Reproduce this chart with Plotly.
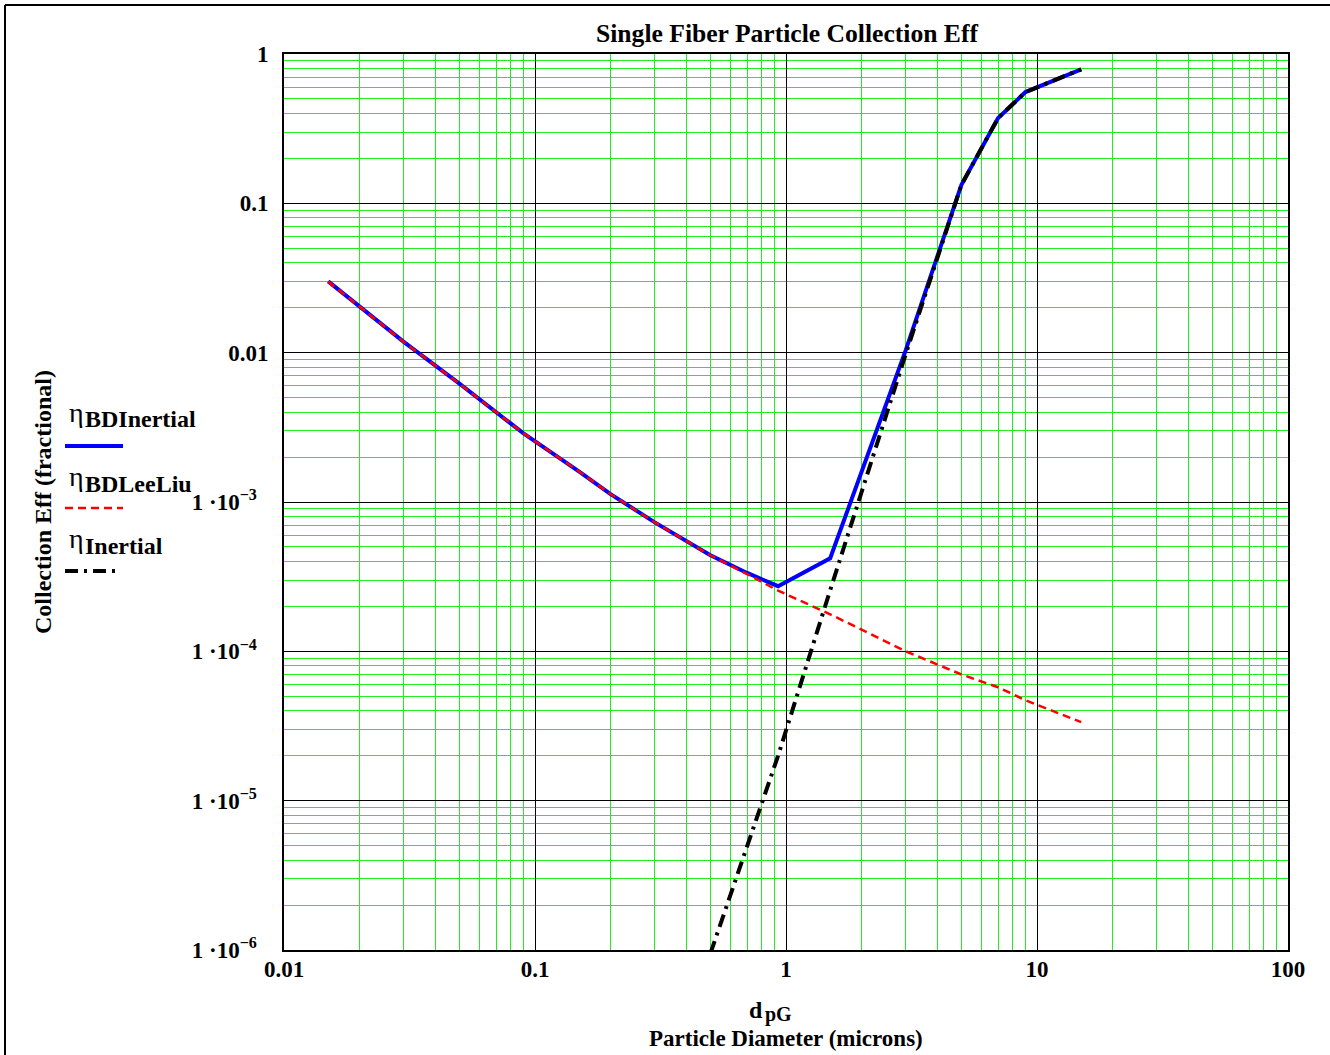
import plotly.graph_objects as go

# ---- data ----
d_bd = [0.015, 0.02, 0.03, 0.05, 0.07, 0.09, 0.15, 0.2, 0.3, 0.5, 0.7, 0.93, 1.5, 3, 5, 7, 9, 15]
eta_bd_inertial = [0.030, 0.0203, 0.0118, 6.2e-3, 4.0e-3, 2.88e-3, 1.6e-3, 1.13e-3, 7.3e-4,
                   4.4e-4, 3.35e-4, 2.73e-4, 4.2e-4, 0.0104, 0.133, 0.373, 0.556, 0.79]
eta_bd_leeliu = [0.030, 0.0203, 0.0118, 6.2e-3, 4.0e-3, 2.88e-3, 1.6e-3, 1.13e-3, 7.3e-4,
                 4.4e-4, 3.29e-4, 2.55e-4, 1.77e-4, 1.0e-4, 7.0e-5, 5.75e-5, 4.7e-5, 3.36e-5]
d_in = [0.5, 0.7, 0.93, 1.5, 3, 5, 7, 9, 15]
eta_inertial = [9.5e-7, 5.0e-6, 2.0e-5, 2.57e-4, 9.8e-3, 0.133, 0.373, 0.556, 0.79]

x_tickvals = [0.01, 0.1, 1, 10, 100]
x_ticktext = ["0.01", "0.1", "1", "10", "100"]
y_tickvals = [1e-6, 1e-5, 1e-4, 1e-3, 0.01, 0.1, 1]
y_ticktext = ["1 ·10<sup>−6</sup>\u00a0\u00a0", "1 ·10<sup>−5</sup>\u00a0\u00a0",
              "1 ·10<sup>−4</sup>\u00a0\u00a0", "1 ·10<sup>−3</sup>\u00a0\u00a0",
              "0.01", "0.1", "1"]

FONT = "Liberation Serif"
W, H = 1330, 1055
L, R, T, B = 284, 1288, 54, 950   # plot area in page pixels


def px(xp):
    return (xp - L) / (R - L)


def py(yp):
    return (B - yp) / (B - T)


fig = go.Figure()
fig.add_trace(go.Scatter(x=d_bd, y=eta_bd_inertial, mode="lines",
                         line=dict(color="#0000ff", width=4), name="BDInertial"))
fig.add_trace(go.Scatter(x=d_bd, y=eta_bd_leeliu, mode="lines",
                         line=dict(color="#ff0000", width=2.5, dash="8px,5px"), name="BDLeeLiu"))
fig.add_trace(go.Scatter(x=d_in, y=eta_inertial, mode="lines",
                         line=dict(color="#000000", width=4, dash="13px,6px,3px,6px"), name="Inertial"))

grid_green = "#22ee22"
tickfont = dict(family=FONT, size=23, color="#000000", weight="bold")
fig.update_xaxes(type="log", range=[-2, 2], tickvals=x_tickvals, ticktext=x_ticktext,
                 showgrid=True, gridcolor="#000000", gridwidth=1,
                 showline=True, linecolor="#000000", linewidth=2, mirror=True,
                 ticks="", ticklabelstandoff=-3, zeroline=False, tickfont=tickfont,
                 minor=dict(dtick="D1", showgrid=True, gridcolor=grid_green, gridwidth=1, ticks=""))
fig.update_yaxes(type="log", range=[-6, 0], tickvals=y_tickvals, ticktext=y_ticktext,
                 showgrid=True, gridcolor="#000000", gridwidth=1,
                 showline=True, linecolor="#000000", linewidth=2, mirror=True,
                 ticks="", ticklabelstandoff=9, zeroline=False, tickfont=tickfont,
                 minor=dict(dtick="D1", showgrid=True, gridcolor=grid_green, gridwidth=1, ticks=""))

ann = []
bold = dict(family=FONT, size=24, color="#000000", weight="bold")
# title
ann.append(dict(text="Single Fiber Particle Collection Eff", x=px(787), y=py(34), xref="paper", yref="paper",
                showarrow=False, xanchor="center", yanchor="middle",
                font=dict(family=FONT, size=25.6, color="#000000", weight="bold")))
# y title
ann.append(dict(text="Collection Eff (fractional)", x=px(43), y=py(502), xref="paper", yref="paper",
                showarrow=False, xanchor="center", yanchor="middle", textangle=-90, font=bold))
# x title
ann.append(dict(text="d", x=px(764), y=py(1010), xref="paper", yref="paper", borderpad=0,
                showarrow=False, xanchor="right", yanchor="middle", font=bold))
ann.append(dict(text="pG", x=px(764), y=py(1014), xref="paper", yref="paper", borderpad=0,
                showarrow=False, xanchor="left", yanchor="middle",
                font=dict(family=FONT, size=20, color="#000000", weight="bold")))
ann.append(dict(text="Particle Diameter (microns)", x=px(786), y=py(1038), xref="paper", yref="paper",
                showarrow=False, xanchor="center", yanchor="middle",
                font=dict(family=FONT, size=23, color="#000000", weight="bold")))

# legend (custom, label above sample)
legend_items = [("BDInertial", 419, 412, 446, "#0000ff", "solid", 4, 123),
                ("BDLeeLiu", 484, 476, 508, "#ff0000", "8px,5px", 2.5, 123),
                ("Inertial", 546, 538, 571, "#000000", "13px,6px,3px,6px", 4, 118)]
shapes = []
for name, ycen, yeta, yline, col, dash, lw, xend in legend_items:
    ann.append(dict(text="η", x=px(67), y=py(yeta), xref="paper", yref="paper", showarrow=False,
                    xanchor="left", yanchor="middle", font=dict(family=FONT, size=28, color="#000000")))
    ann.append(dict(text=name, x=px(83), y=py(ycen), xref="paper", yref="paper", showarrow=False,
                    xanchor="left", yanchor="middle", font=bold))
    shapes.append(dict(type="line", xref="paper", yref="paper", x0=px(65), x1=px(xend), y0=py(yline), y1=py(yline),
                       line=dict(color=col, width=lw, dash=dash)))

# outer frame (top and left edges visible)
shapes.append(dict(type="line", xref="paper", yref="paper", x0=px(5), x1=px(1340), y0=py(5), y1=py(5),
                   line=dict(color="#000000", width=2)))
shapes.append(dict(type="line", xref="paper", yref="paper", x0=px(5), x1=px(5), y0=py(5), y1=py(1070),
                   line=dict(color="#000000", width=2)))

fig.update_layout(width=W, height=H,
                  margin=dict(l=L, r=W - R, t=T, b=H - B, autoexpand=False),
                  paper_bgcolor="#ffffff", plot_bgcolor="#ffffff", showlegend=False,
                  annotations=ann, shapes=shapes, font=dict(family=FONT, color="#000000"))

fig.write_html("out.html", config={"displayModeBar": False},
               post_script="document.body.style.margin='0';document.body.style.overflow='hidden';")
